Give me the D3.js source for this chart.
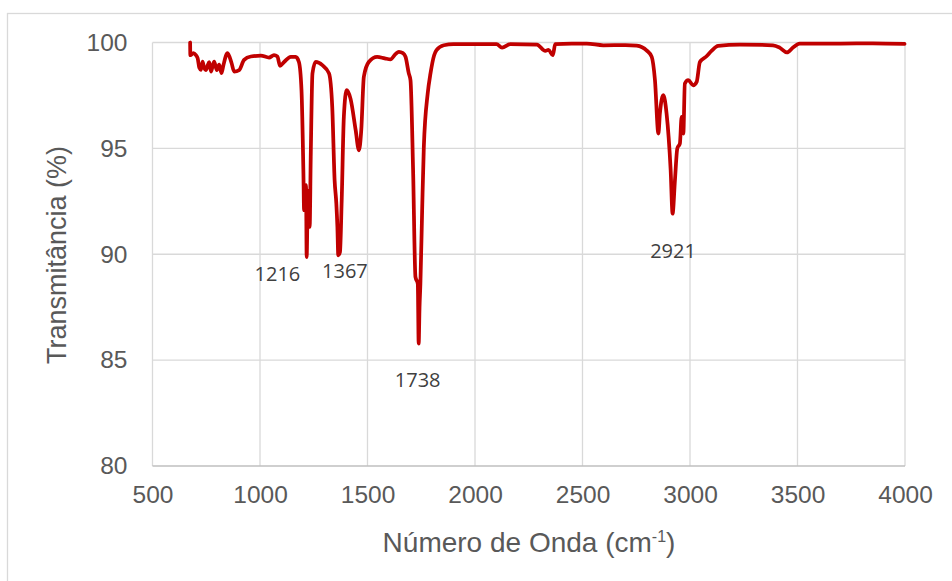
<!DOCTYPE html>
<html>
<head>
<meta charset="utf-8">
<script src="https://cdn.jsdelivr.net/npm/d3@7"></script>
<style>
  body { margin: 0; background: #fff; }
  svg text { font-family: "Liberation Sans", Arial, sans-serif; }
</style>
</head>
<body>
<div id="chart"></div>
<script>
var width = 952;
var height = 581;

// FTIR spectrum
var waveNumber = [675, 676, 690, 702, 710, 718, 725, 733, 740, 748, 756, 764, 772, 780, 787, 799, 810, 821, 830,
  849, 868, 880, 903, 926, 957, 1004, 1042, 1065, 1081, 1093, 1112, 1143, 1166, 1181, 1193, 1202, 1205, 1214,
  1217, 1223, 1231, 1236, 1244, 1259, 1290, 1321, 1336, 1347, 1355, 1360, 1364, 1372, 1380, 1390, 1403, 1421,
  1445, 1460, 1471, 1483, 1506, 1545, 1580, 1607, 1630, 1646, 1665, 1677, 1692, 1700, 1712, 1723, 1734, 1738,
  1742, 1746, 1754, 1762, 1780, 1793, 1810, 1821, 1855, 1900, 2000, 2100, 2126, 2164, 2288, 2327, 2342, 2362,
  2373, 2450, 2520, 2597, 2700, 2752, 2799, 2822, 2837, 2853, 2860, 2876, 2891, 2910, 2919, 2930, 2941, 2953,
  2961, 2969, 2976, 2992, 3015, 3031, 3046, 3077, 3100, 3131, 3232, 3386, 3417, 3451, 3479, 3510, 3700, 3850, 3998];
var transmittance = [100.0, 99.4, 99.5, 99.4, 99.26, 98.8, 98.71, 99.1, 98.8, 98.7, 98.9, 99.07, 98.63, 98.9, 99.1, 98.7, 98.95, 98.55, 98.94,
  99.5, 99.02, 98.63, 98.7, 99.18, 99.34, 99.38, 99.29, 99.4, 99.34, 98.9, 99.08, 99.32, 99.32, 99.08, 97.75, 93.8, 92.08, 93.26,
  89.87, 93.0, 91.29, 94.6, 98.54, 99.08, 98.93, 98.54, 96.96, 93.5, 92.4, 91.29, 89.95, 90.1, 92.55, 96.49, 97.75, 97.35,
  95.86, 94.91, 95.86, 98.38, 99.08, 99.32, 99.25, 99.2, 99.45, 99.56, 99.5, 99.32, 98.54, 98.22, 94.0, 88.93, 88.6, 85.78,
  87.5, 88.6, 92.0, 95.07, 97.59, 98.54, 99.4, 99.64, 99.87, 99.92, 99.92, 99.92, 99.76, 99.92, 99.9, 99.6, 99.65, 99.4,
  99.92, 99.95, 99.95, 99.87, 99.88, 99.85, 99.62, 99.32, 98.22, 95.7, 96.65, 97.51, 96.65, 93.97, 91.92, 93.5, 95.0, 95.23,
  96.49, 95.7, 98.06, 98.22, 97.98, 98.14, 99.08, 99.35, 99.6, 99.84, 99.9, 99.87, 99.76, 99.53, 99.76, 99.95, 99.95, 99.96, 99.93];

var peakLabels = ["1216", "1367", "1738", "2921"];
var peakX = [1216, 1367, 1738, 2921];
var peakY = [89.1, 89.25, 84.1, 90.2];

var xTicks = [500, 1000, 1500, 2000, 2500, 3000, 3500, 4000];
var yTicks = [80, 85, 90, 95, 100];

var svg = d3.select("#chart")
  .append("svg")
  .attr("width", width)
  .attr("height", height);

// chart frame
svg.append("rect")
  .attr("x", 7.5).attr("y", 13.5)
  .attr("width", width).attr("height", height)
  .attr("fill", "white")
  .attr("stroke", "#d9d9d9")
  .attr("stroke-width", 1.3);

var xScale = d3.scaleLinear().domain([500, 4000]).range([152.5, 905]);
var yScale = d3.scaleLinear().domain([80, 100]).range([466, 42.5]);

// gridlines
svg.append("g").selectAll("line.v")
  .data(xTicks)
  .enter().append("line")
  .attr("x1", function(d) { return xScale(d); })
  .attr("x2", function(d) { return xScale(d); })
  .attr("y1", yScale(80)).attr("y2", yScale(100))
  .attr("stroke", "#d9d9d9").attr("stroke-width", 1.3);

svg.append("g").selectAll("line.h")
  .data(yTicks)
  .enter().append("line")
  .attr("x1", xScale(500)).attr("x2", xScale(4000))
  .attr("y1", function(d) { return yScale(d); })
  .attr("y2", function(d) { return yScale(d); })
  .attr("stroke", function(d) { return d === 80 ? "#bfbfbf" : "#d9d9d9"; })
  .attr("stroke-width", 1.3);

// axes (labels only, Excel style)
var xAxis = d3.axisBottom(xScale).tickValues(xTicks).tickFormat(d3.format("d")).tickSize(0).tickPadding(20);
var yAxis = d3.axisLeft(yScale).tickValues(yTicks).tickFormat(d3.format("d")).tickSize(0).tickPadding(25);

var gx = svg.append("g").attr("transform", "translate(0," + yScale(80) + ")").call(xAxis);
var gy = svg.append("g").attr("transform", "translate(" + xScale(500) + ",0)").call(yAxis);
[gx, gy].forEach(function(g) {
  g.select(".domain").remove();
  g.selectAll("text")
    .attr("fill", "#595959")
    .style("font-size", "24.5px")
    .style("font-family", "'Liberation Sans', Arial, sans-serif");
});

// spectrum line
var points = waveNumber.map(function(w, i) { return [w, transmittance[i]]; });
var line = d3.line()
  .x(function(d) { return xScale(d[0]); })
  .y(function(d) { return yScale(d[1]); })
  .curve(d3.curveMonotoneX);

svg.append("path")
  .datum(points)
  .attr("d", line)
  .attr("fill", "none")
  .attr("stroke", "#c00000")
  .attr("stroke-width", 3.75)
  .attr("stroke-linejoin", "round")
  .attr("stroke-linecap", "round");

// peak annotations
svg.append("g").selectAll("text")
  .data(peakLabels)
  .enter().append("text")
  .attr("x", function(d, i) { return xScale(peakX[i]) + (i === 0 ? -29 : (i === 1 ? 6 : (i === 2 ? -1 : 0))); })
  .attr("y", function(d, i) { return yScale(peakY[i]); })
  .attr("text-anchor", "middle")
  .attr("dominant-baseline", "central")
  .attr("fill", "#404040")
  .style("font-family", "'Open Sans', sans-serif")
  .style("font-size", "20px")
  .text(function(d) { return d; });

// axis titles
var xt = svg.append("text")
  .attr("x", 529).attr("y", 552)
  .attr("text-anchor", "middle")
  .attr("fill", "#595959")
  .style("font-size", "28px");
xt.append("tspan").text("Número de Onda (cm");
xt.append("tspan").attr("dy", -10).style("font-size", "16px").text("-1");
xt.append("tspan").attr("dy", 10).text(")");

svg.append("text")
  .attr("transform", "translate(66,255) rotate(-90)")
  .attr("text-anchor", "middle")
  .attr("fill", "#595959")
  .style("font-size", "27px")
  .text("Transmitância (%)");
</script>
</body>
</html>
